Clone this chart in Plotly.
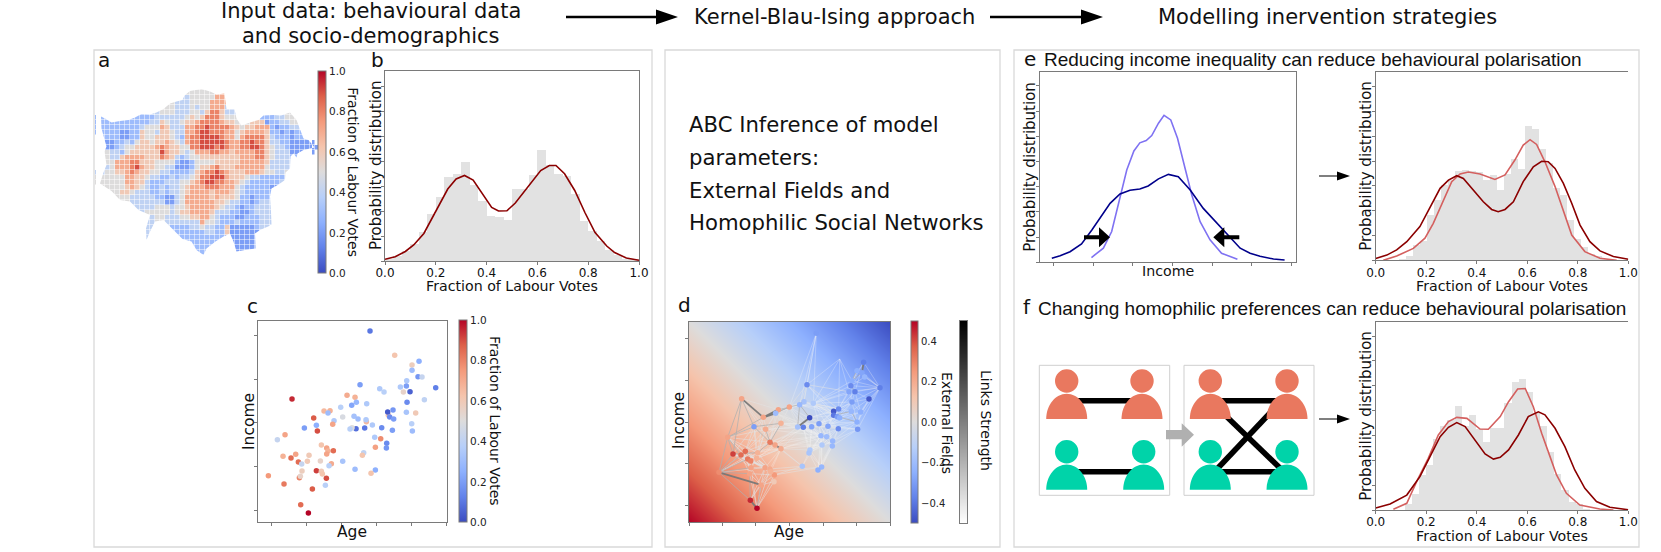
import plotly.graph_objects as go

W, H = 1661, 552
DJ = "DejaVu Sans"
LS = "Liberation Sans"
SPINE = "#7a7a7a"
GREY = "#e2e2e2"
DARKRED = "#8b0000"
LIGHTRED = "#d4605f"
NAVY = "#00008b"
PURPLE = "#7f72f2"
ORANGE = "#e9785f"
GREEN = "#00d3a9"

COOLWARM = [[0, "#3b4cc0"], [0.125, "#6282ea"], [0.25, "#8db0fe"], [0.375, "#b7cff9"], [0.5, "#dddcdc"],
            [0.625, "#f5c4ac"], [0.75, "#f49a7b"], [0.875, "#dd6049"], [1, "#b40426"]]
GREYS = [[0, "#ffffff"], [1, "#000000"]]

# ---- panel a: ward map, one digit = tenths of the Labour vote share -------
map_rows = [
    "19: 5555",
    "19: 55555 77",
    "18: 4 55555 77",
    "17: 44 5555 777",
    "14: 554 44 54 55 777 4",
    "12: 4 555 444 554 6 88 6 44",
    "1: 3 ....... 33344 4444 5 6 5 6 888 6 55 ...... 3344 55",
    "1: 33 . 33333 33 44 6 5 44 5 6 67 88887 66 5 55 666 233 445",
    "1: 333 33333 455 5 76 444 77 88988887 6 566777 32334",
    "1: 333 32233 6554 66 544 77 89988877 5 67777 6 3 32323",
    "2: 33 32233 65566 654 3 7 889999877 5 78888 6 433 3233",
    "2: 22 33 43 5 6656 6 7 6 54 78 89999987 788988 6 4433 2222",
    "2: 22 3 4 5 5 6 6 6 6 7 8 7 6 6 5 5 88 99989 87 788998 6 544 3 22222",
    "2: 5 4 4 3 5 66 6666 9 7 66 5 4 5 777 887 76 7777 88 6 5 444 222",
    "2: 5 44 6 7 777 6 6 6 8 7 6 4 3 4 5 5 6666 6 66 6777 88 6 5 444 3",
    "2: 55 777 88 6 665 555 3 22 3 55 55 66 666 7777 7 6 4 444",
    "2: 45 777 89 7 6 6 5 54 4 222 3 5 66786 66 77777 7 5 444 4",
    "1: 455 66 78 7 66 55 44 3 333 4 6 78898 7 66 6777 6 5 5 44 5",
    "1: 55555 7 7 6 6 5 44 3 3 4 3 4 4 5 6 88999 7 6 6 6 5 4 433 333 5",
    "1: 55555 7 7 6 6 4 33 3 44 4 5 5 6 7 89988 77 6 5 4 3333 33 4",
    "3: 555 6 7 6 5 4 33 43 4 4 5 6 77 78887 77 5 4 3333 32",
    "4: 56 6 5 4 4 4 33 4 3 4 4 5 67 77 7677 76 5 4 333 33",
    "5: 5 54 4444 33 22 4 5 777 77 676 66 5 332 333",
    "6: 5 44 444 44 22 4 5 7777 7766 5 4 4 332 344",
    "8: 44 445 554 5 5 67777 765 4 43233 444",
    "11: 55 5 54 5 6 6777 76 4 4 433223 444",
    "11: 455 44 4 55 66 77 5 4 3 332233 344",
    "11: 455 4 444 444 7 55 4 33 3433 3344",
    "11: 44 .. .3 33 44 5 44 33 6 22222 34",
    "10: 44 .... 333 333 443 36 22222",
    "10: 4 ....... 333 3 3 33 .. 22222",
    "19: 333 33 .... 2222",
    "20: 333 ..... 2222",
    "21: 3",
]
map_cols = 46
map_nrows = 35
# Greater London silhouette, in map cells (x, y)
outline_x = [1.2, 2, 3.3, 5, 6.7, 8, 9.3, 11, 12.3, 13.7, 15, 16.3, 17.5, 17.9, 19, 21.3, 23, 24.3, 25.9, 26.1, 26.3, 27.9, 28.3,
             29.3, 31, 32.7, 33.7, 35.7, 37.2, 39, 40.3, 40.8, 41.7, 42.7, 43.9, 41.7, 40.5, 40.3, 39.7, 39.1, 39, 38.1, 38,
             36.7, 35.3, 35, 35.2, 35.3, 33, 32, 32.1, 30, 28.3, 27.7, 27, 25.7, 24.1, 22.3, 21.7, 20.3, 19.3, 17.5, 16, 14.7,
             13.7, 12, 11, 10.3, 10.2, 10.7, 11, 8.7, 7, 5, 3.3, 1, 1.7, 2.3, 1.9, 2.3, 1.3]
outline_y = [6.3, 6.7, 7.5, 7.2, 7, 6.5, 5.8, 5.9, 5.5, 4.8, 3.7, 3.3, 3, 2.1, 1.2, 0.8, 1.3, 1.9, 1.7, 3.3, 4.8, 4.8, 6.7,
             8.1, 7.5, 7, 6.1, 6, 6.1, 5.5, 7, 8.3, 10.7, 11, 12.5, 13, 13.7, 14.5, 13.7, 14.3, 16.7, 17.5, 19, 19.9, 20.7, 22.3,
             25.3, 28, 29, 29.7, 32.7, 33, 33.3, 31.3, 29.7, 30.3, 31.3, 32.7, 34, 33, 31.3, 30.8, 29.3, 28, 27, 27.3, 29.3, 31,
             28.7, 27, 26, 25, 23.3, 23, 21.2, 19.7, 17.5, 16, 13.3, 12.3, 8.7]

# ---- panel b ---------------------------------------------------------------
frac_ticks = [0.0, 0.2, 0.4, 0.6, 0.8, 1.0]
density_ticks = [0, 1, 2, 3, 4, 5, 6, 7]
b_hist = [0.07, 0.2, 0.4, 0.67, 1.17, 1.9, 2.55, 3.38, 3.5, 3.95, 3.05, 2.4, 1.8, 1.75, 1.66,
          2.9, 2.9, 3.45, 4.44, 3.85, 3.5, 3.4, 2.7, 1.6, 1.2, 0.8, 0.45, 0.25, 0.1, 0.05]
b_x = [0, .04, .08, .113, .153, .2, .247, .28, .313, .347, .387, .42, .447, .48, .513, .547, .58, .613,
       .647, .673, .707, .747, .787, .827, .873, .904, .95, 1.0]
b_y = [.07, .17, .38, .64, 1.1, 2.01, 2.88, 3.28, 3.42, 3.24, 2.61, 2.14, 2.0, 2.01, 2.32, 2.77, 3.22, 3.62,
       3.82, 3.82, 3.49, 2.82, 1.94, 1.14, .6, .34, .12, .03]

# ---- panel c ---------------------------------------------------------------
c_age = [450, 524, 597, 576, 576, 594, 606, 560, 541, 559, 647, 570, 550, 420, 479, 492, 613, 561, 381, 405, 216,
         440, 409, 395, 362, 312, 330, 324, 505, 503, 519, 559, 587, 509, 521, 368, 402, 414, 342, 281, 338, 289,
         253, 292, 195, 172, 439, 438, 457, 434, 408, 396, 390, 485, 517, 575, 577, 464, 482, 500, 466, 499, 304,
         320, 324, 340, 320, 431, 427, 368, 334, 327, 267, 227, 189, 213, 235, 262, 301, 245, 405, 466, 453, 289,
         246, 304, 307, 145, 238, 241, 319, 192, 277, 316, 242, 265]
c_income = [138, 211, 229, 240, 256, 275, 276, 287, 306, 303, 308, 320, 321, 299, 311, 321, 344, 352, 331, 337, 342,
            356, 352, 361, 367, 378, 377, 384, 391, 381, 375, 382, 384, 396, 402, 396, 394, 402, 407, 399, 418, 421,
            429, 438, 449, 464, 410, 404, 420, 429, 431, 428, 432, 428, 436, 416, 438, 457, 461, 475, 487, 489, 480,
            489, 498, 497, 507, 503, 511, 529, 536, 542, 511, 508, 514, 519, 531, 529, 528, 537, 553, 555, 565, 557,
            558, 559, 567, 572, 578, 574, 580, 597, 612, 601, 659, 684]
c_votes = [.1, .62, .25, .58, .3, .18, .42, .35, .35, .2, .12, .05, .55, .2, .35, .38, .4, .15, .7, .68, .95,
           .35, .28, .22, .38, .66, .68, .3, .62, .03, .18, .33, .6, .15, .2, .48, .32, .3, .35, .88, .72, .25,
           .2, .9, .72, .42, .66, .35, .35, .1, .08, .5, .38, .15, .2, .38, .3, .35, .78, .15, .73, .18, .62,
           .72, .68, .85, .72, .4, .62, .33, .7, .38, .6, .72, .68, .85, .85, .6, .55, .42, .3, .25, .62, .92,
           .58, .6, .62, .75, .8, .55, .9, .82, .88, .38, .85, 1.0]
c_age_ticks = [154, 259, 364, 469, 574, 679]
c_income_ticks = [152, 283, 414, 545, 676]
cbar_ticks = [0.0, 0.2, 0.4, 0.6, 0.8, 1.0]

# ---- panel d ---------------------------------------------------------------
d_age = [559, 701, 681, 696, 704, 666, 663, 531, 750, 657, 675, 717, 666, 335, 509, 522, 550, 445, 437, 478, 626, 611,
         611, 622, 629, 664, 692, 400, 372, 407, 453, 539, 503, 520, 545, 567, 594, 625, 681, 683, 573, 590, 608, 576,
         607, 293, 420, 435, 453, 309, 333, 346, 383, 353, 362, 380, 540, 537, 517, 575, 564, 267, 363, 405, 420, 359,
         433, 422, 393, 432, 361, 381, 629]
d_income = [145, 232, 257, 263, 276, 287, 302, 299, 308, 320, 320, 342, 351, 341, 359, 350, 355, 374, 385, 366, 372, 379,
            391, 395, 398, 379, 381, 397, 425, 433, 415, 398, 426, 427, 425, 416, 424, 431, 411, 433, 452, 455, 468, 480,
            483, 457, 472, 480, 491, 507, 510, 499, 503, 522, 528, 520, 495, 504, 544, 546, 555, 562, 548, 548, 552, 566,
            570, 560, 600, 590, 646, 670, 222]
d_votes = [.2, .12, .25, .22, .28, .25, .15, .15, .12, .22, .12, .03, .2, .72, .28, .32, .35, .72, .3, .72, .15, .03,
           .1, .2, .25, .28, .25, .72, .2, .7, .68, .0, .32, .12, .22, .2, .22, .15, .25, .18, .28, .3, .28, .35,
           .28, .72, .82, .72, .7, .92, .85, .85, .68, .82, .8, .68, .35, .33, .33, .28, .25, .78, .72, .72, .7, .72,
           .75, .68, .72, .6, .95, 1.0]
links_light = ("0-7 0-14 0-19 0-16 0-15 72-7 72-9 72-16 72-5 72-20 8-1 8-2 8-3 8-4 8-5 8-6 8-9 8-10 8-11 8-12 8-26 8-38 8-39 "
               "2-9 2-6 1-6 1-5 1-10 3-6 4-6 5-10 6-12 9-12 10-12 10-26 12-26 12-38 25-39 26-39 38-39 37-39 37-38 36-38 36-39 "
               "35-39 35-38 42-39 44-39 42-38 40-37 41-37 42-37 43-37 44-37 40-36 41-36 42-36 43-36 44-36 40-35 41-35 43-35 "
               "44-35 40-34 41-34 43-34 44-34 40-33 41-33 43-33 44-33 40-32 41-32 43-32 56-40 56-41 56-42 56-43 57-40 57-41 "
               "57-42 57-43 56-34 57-34 56-33 57-33 58-40 59-40 60-40 59-43 60-43 59-44 60-44 58-56 59-56 60-57 59-57 60-42 "
               "59-42 35-16 36-16 37-16 20-16 20-35 21-35 22-35 23-35 24-35 25-35 20-36 21-36 22-36 23-36 24-36 25-36 26-36 "
               "20-12 21-12 22-12 23-12 24-12 26-24 12-16 9-16 10-16 6-16 5-16 9-20 6-20 10-20 11-38 11-26 11-12 11-10 11-25 "
               "14-20 14-21 14-22 15-21 15-22 16-23 16-24 16-25 7-21 7-22 31-20 31-21 31-22 31-37 32-35 32-36 33-35 34-36 "
               "30-32 30-35 30-36 30-40 48-40 48-41 48-43 47-40 47-43 46-40 46-35 17-14 17-15 17-16 18-14 18-15 18-33 18-34 "
               "19-33 19-34 19-35 29-32 29-34 29-40 51-30 52-30 55-30 55-32 55-33 52-48 51-48 54-48 53-48 63-48 64-48 67-48")
links_pale = ("61-46 61-63 61-47 61-52 61-51 45-52 45-53 45-46 45-29 45-28 13-17 13-29 13-46 27-46 28-49 49-53 49-54 49-62 "
              "50-62 50-65 51-63 51-46 52-64 53-65 53-67 54-66 55-66 55-48 62-68 63-68 65-68 66-68 67-68 69-68 65-71 68-71 "
              "68-70 69-71 66-71 64-71 63-70 64-70 62-71 28-27 29-30 30-33 30-34 29-33 17-33 18-32 19-32 19-7 19-15 15-7 14-7 "
              "7-20 7-9 15-20 16-21 16-22 31-36 33-36 34-37 35-37 46-33 47-32 48-33 48-56 48-58 47-58 64-58 66-58 67-59 66-59 "
              "45-54 45-55 45-62 45-63 49-55 49-63 49-64 50-54 50-55 50-63 50-64 51-62 51-64 52-62 52-65 53-62 53-63 54-65 "
              "54-64 55-64 55-67 62-65 62-63 63-64 64-67 65-66 28-51 28-52 28-55 29-51 29-52 29-55 27-51 27-52 17-30 18-30 "
              "18-29 17-29 17-46 18-46 19-30 19-46 32-33 33-34 34-35 35-36 36-37")
links_mid = ("13-28 13-45 13-49 45-61 45-49 45-50 61-49 61-50 61-53 61-65 61-62 61-70 45-27 28-45 27-19 18-19 17-19 19-14 14-32 "
             "14-31 32-31 28-30 30-46 28-46 29-46 46-52 49-52 50-51 65-70 71-68 5-2 2-4 6-10 3-5 22-25 22-38 25-38 21-20")
links_dark = "70-71 1-3 46-47 47-48 31-32 27-17 13-27 61-68 27-18 14-15"
d_age_ticks = [177, 278, 378, 479, 580, 681, 781]
d_income_ticks = [159, 285, 411, 537, 663]
field_age = [177, 479, 781]
field_income = [712, 411, 110]
field_values = [[0.5, 0.25, 0.0], [0.25, 0.0, -0.25], [0.0, -0.25, -0.5]]
field_ticks = [-0.4, -0.2, 0.0, 0.2, 0.4]
field_labels = ["−0.4", "−0.2", "0.0", "0.2", "0.4"]
strength_levels = [0.0, 1.0]

# ---- panel e ---------------------------------------------------------------
income_ticks = [0, 1, 2, 3, 4, 5, 6]
e_x_before = [-.04, .17, .42, .71, .97, 1.22, 1.43, 1.68, 1.93, 2.18, 2.39, 2.65, 2.9, 3.15, 3.45, 3.78, 4.2, 4.71, 4.96, 5.21, 5.55, 5.83]
e_y_before = [.16, .26, .42, .73, 1.28, 1.88, 2.34, 2.71, 2.86, 2.91, 3.03, 3.31, 3.49, 3.4, 2.87, 2.14, 1.42, .56, .36, .24, .13, .09]
e_x_after = [.96, 1.26, 1.47, 1.64, 1.85, 2.03, 2.18, 2.34, 2.48, 2.65, 2.79, 2.96, 3.13, 3.32, 3.49, 3.7, 3.95, 4.24, 4.64]
e_y_after = [.19, .56, 1.22, 2.28, 3.66, 4.42, 4.74, 4.83, 5.03, 5.52, 5.83, 5.65, 4.92, 3.73, 2.67, 1.61, .89, .36, .12]
e2_hist = [.08, .19, .62, .79, 1.83, 2.43, 3.03, 3.23, 3.61, 3.64, 3.61, 3.56, 3.26, 3.46, 2.86, 3.5, 4.08, 3.7, 5.41, 5.32,
           4.48, 3.93, 2.93, 2.63, 1.62, .89, .55, .26, .2, .04]
e2_x_base = [0, .044, .083, .123, .175, .215, .255, .288, .321, .347, .387, .426, .459, .485, .512, .545, .584, .624, .657, .683,
             .71, .743, .776, .809, .848, .888, .941, 1.0]
e2_y_base = [.07, .21, .42, .75, 1.36, 2.16, 2.9, 3.23, 3.41, 3.3, 2.83, 2.36, 2.05, 1.96, 2.05, 2.36, 3.17, 3.77, 3.99, 3.97,
             3.7, 3.1, 2.3, 1.42, .75, .38, .15, .04]
e2_x_new = [.03, .083, .149, .195, .228, .268, .301, .334, .367, .413, .472, .512, .551, .584, .611, .637, .67, .71, .743, .776, .828, .888, .954]
e2_y_new = [0, .17, .48, .89, 1.49, 2.43, 3.17, 3.48, 3.56, 3.48, 3.26, 3.44, 4.04, 4.64, 4.86, 4.67, 3.97, 2.97, 2.03, 1.02, .35, .08, 0]

# ---- panel f ---------------------------------------------------------------
f2_hist = [.27, .67, 1.41, 1.81, 2.89, 3.4, 3.62, 4.21, 3.41, 3.85, 3.26, 2.74, 3.32, 3.32, 4.3, 5.15, 5.28, 4.77, 3.92, 3.38,
           2.34, 1.48, .81, .34, .27, .05]
f2_x_base = [0, .057, .123, .175, .215, .255, .288, .321, .354, .393, .433, .466, .493, .526, .565, .604, .644, .67, .71, .749, .788, .828, .874, .927, 1.0]
f2_y_base = [.08, .24, .6, 1.34, 2.15, 2.95, 3.33, 3.52, 3.36, 2.83, 2.26, 2.05, 2.12, 2.42, 3.02, 3.76, 3.95, 3.83, 3.29, 2.55, 1.61, .87, .34, .11, .01]
f2_x_new = [.07, .123, .162, .208, .248, .288, .321, .361, .413, .446, .493, .526, .562, .592, .624, .657, .683, .716, .755, .808, .887, .941]
f2_y_new = [.03, .27, 1.14, 2.08, 3.02, 3.56, 3.73, 3.69, 3.26, 3.25, 3.76, 4.36, 4.87, 4.89, 4.16, 3.09, 2.35, 1.41, .67, .2, .04, 0]


def fx(x):
    return x / W


def fy(y):
    return 1 - y / H


fig = go.Figure()
layout = dict(width=W, height=H, autosize=False, margin=dict(l=0, r=0, t=0, b=0, pad=0, autoexpand=False), paper_bgcolor="white",
              plot_bgcolor="white", showlegend=False, barmode="overlay", bargap=0, font=dict(family=DJ, color="#111"))


def set_axes(n, box, xr, yr, xticks=None, yticks=None, xlabels=False, visible=True, xmirror=True, ymirror=True):
    x0, x1, y0, y1 = box
    common = dict(showgrid=False, zeroline=False, showline=visible, linecolor=SPINE, linewidth=1, visible=visible,
                  ticks="outside", ticklen=3, tickwidth=1, tickcolor=SPINE, layer="above traces")
    xa = dict(common, domain=[fx(x0), fx(x1)], range=xr, anchor=f"y{n}", mirror=xmirror, tickmode="array",
              tickvals=xticks or [], showticklabels=xlabels, tickfont=dict(family=DJ, size=12, color="#111"),
              ticklabelstandoff=-2)
    if xlabels:
        xa["ticktext"] = [f"{v:.1f}" for v in xticks]
    ya = dict(common, domain=[fy(y1), fy(y0)], range=yr, anchor=f"x{n}", mirror=ymirror, tickmode="array",
              tickvals=yticks or [], showticklabels=False)
    layout[f"xaxis{n}"] = xa
    layout[f"yaxis{n}"] = ya


def colorbar(x0, x1, y0, y1, tickvals, ticktext=None, size=10.5):
    cb = dict(x=fx(x0), xanchor="left", y=fy(y1), yanchor="bottom", len=(y1 - y0) / H, lenmode="fraction",
              thickness=x1 - x0, thicknessmode="pixels", xpad=0, ypad=0, outlinecolor=SPINE, outlinewidth=1,
              ticks="", ticklen=0, tickmode="array", tickvals=tickvals, tickfont=dict(family=DJ, size=size, color="#222"),
              ticktext=ticktext if ticktext else [f"{v:.1f}" for v in tickvals])
    return cb


# a: map ----------------------------------------------------------------------
map_z = [[None] * map_cols for _ in range(map_nrows)]
for j, row in enumerate(map_rows):
    start, digits = row.split(":")
    for k, ch in enumerate(digits.replace(" ", "")):
        if ch != ".":
            map_z[j][int(start) + k] = int(ch) / 10
# let border cells reach under the silhouette, which then trims them
grown = [r[:] for r in map_z]
for j in range(map_nrows):
    for i in range(map_cols):
        if map_z[j][i] is None:
            for dj, di in ((0, -1), (0, 1), (-1, 0), (1, 0)):
                jj, ii = j + dj, i + di
                if 0 <= jj < map_nrows and 0 <= ii < map_cols and map_z[jj][ii] is not None:
                    grown[j][i] = map_z[jj][ii]
                    break
map_box = (95, 325, 85, 260)
set_axes(1, map_box, [0, map_cols], [map_nrows, 0], visible=False)
fig.add_trace(go.Heatmap(x=[i + .5 for i in range(map_cols)], y=[j + .5 for j in range(map_nrows)], z=grown,
                         colorscale=COOLWARM, zmin=0, zmax=1, xgap=0.5, ygap=0.5, hoverongaps=False, xaxis="x1", yaxis="y1",
                         colorbar=colorbar(318, 326, 71.7, 273.3, cbar_ticks)))

# b ---------------------------------------------------------------------------
set_axes(2, (385, 639, 71, 261), [0, 1], [0, 7.6], frac_ticks, density_ticks, True)
fig.add_trace(go.Bar(x0=1 / 60, dx=1 / 30, width=1 / 30, y=b_hist, marker=dict(color=GREY, line=dict(width=0)), xaxis="x2", yaxis="y2"))
fig.add_trace(go.Scatter(x=b_x, y=b_y, mode="lines", line=dict(color=DARKRED, width=1.6), xaxis="x2", yaxis="y2"))

# c ---------------------------------------------------------------------------
set_axes(3, (257.7, 446.7, 321, 522.3), [113, 680], [712, 108], c_age_ticks, c_income_ticks)
fig.add_trace(go.Scatter(x=c_age, y=c_income, mode="markers", xaxis="x3", yaxis="y3",
                         marker=dict(size=5.5, color=c_votes, colorscale=COOLWARM, cmin=0, cmax=1, line=dict(width=0),
                                     colorbar=colorbar(459.3, 467, 320.3, 522.3, cbar_ticks))))

# d ---------------------------------------------------------------------------
set_axes(4, (689, 890.3, 321.7, 522.3), [177, 781], [712, 110], d_age_ticks, d_income_ticks)
fig.add_trace(go.Heatmap(x=field_age, y=field_income, z=field_values, colorscale=COOLWARM, zmin=-.5, zmax=.5, zsmooth="best",
                         xaxis="x4", yaxis="y4", colorbar=colorbar(911, 918, 321.7, 523.3, field_ticks, field_labels, 10)))


def link_xy(spec):
    xs, ys = [], []
    for pair in spec.split():
        a, b = pair.split("-")
        a, b = int(a), int(b)
        xs += [d_age[a], d_age[b], None]
        ys += [d_income[a], d_income[b], None]
    return xs, ys


for spec, col, wid in ((links_light, "rgba(245,245,245,0.3)", 1), (links_pale, "rgba(225,225,225,0.55)", 1),
                       (links_mid, "rgba(175,175,175,0.75)", 1), (links_dark, "rgba(120,120,120,0.95)", 1.8)):
    lx, ly = link_xy(spec)
    fig.add_trace(go.Scatter(x=lx, y=ly, mode="lines", line=dict(color=col, width=wid), xaxis="x4", yaxis="y4"))
fig.add_trace(go.Scatter(x=d_age[:len(d_votes)], y=d_income[:len(d_votes)], mode="markers", xaxis="x4", yaxis="y4",
                         marker=dict(size=5.5, color=d_votes, colorscale=COOLWARM, cmin=0, cmax=1, line=dict(width=0), showscale=False)))

# links strength bar
set_axes(5, (960, 967.3, 320.7, 522.7), [0, 1], [0, 1])
layout["xaxis5"]["ticks"] = ""
layout["yaxis5"]["ticks"] = ""
fig.add_trace(go.Heatmap(x=[0, 1], y=strength_levels, z=[[v, v] for v in strength_levels], colorscale=GREYS, zmin=0, zmax=1,
                         zsmooth="best", showscale=False, xaxis="x5", yaxis="y5"))

# e left ----------------------------------------------------------------------
set_axes(6, (1040.3, 1295.7, 72.3, 262.3), [-.33, 6.11], [0, 7.54], income_ticks, density_ticks)
fig.add_trace(go.Scatter(x=e_x_after, y=e_y_after, mode="lines", line=dict(color=PURPLE, width=1.6), xaxis="x6", yaxis="y6"))
fig.add_trace(go.Scatter(x=e_x_before, y=e_y_before, mode="lines", line=dict(color=NAVY, width=1.6), xaxis="x6", yaxis="y6"))

# e right ---------------------------------------------------------------------
set_axes(7, (1375.7, 1628.3, 71.7, 260.3), [0, 1], [0, 7.6], frac_ticks, density_ticks, True, ymirror=False)
fig.add_trace(go.Bar(x0=.1036, dx=.0277, width=.0277, y=e2_hist, marker=dict(color=GREY, line=dict(width=0)), xaxis="x7", yaxis="y7"))
fig.add_trace(go.Scatter(x=e2_x_new, y=e2_y_new, mode="lines", line=dict(color=LIGHTRED, width=1.6), xaxis="x7", yaxis="y7"))
fig.add_trace(go.Scatter(x=e2_x_base, y=e2_y_base, mode="lines", line=dict(color=DARKRED, width=1.6), xaxis="x7", yaxis="y7"))

# f right ---------------------------------------------------------------------
set_axes(8, (1375.7, 1628.3, 321.7, 510), [0, 1], [0, 7.58], frac_ticks, density_ticks, True, ymirror=False)
fig.add_trace(go.Bar(x0=.1276, dx=.0282, width=.0282, y=f2_hist, marker=dict(color=GREY, line=dict(width=0)), xaxis="x8", yaxis="y8"))
fig.add_trace(go.Scatter(x=f2_x_new, y=f2_y_new, mode="lines", line=dict(color=LIGHTRED, width=1.6), xaxis="x8", yaxis="y8"))
fig.add_trace(go.Scatter(x=f2_x_base, y=f2_y_base, mode="lines", line=dict(color=DARKRED, width=1.6), xaxis="x8", yaxis="y8"))

# shapes ----------------------------------------------------------------------
shapes = []


def rect(x0, y0, x1, y1, color="#d9d9d9", lw=1.3):
    shapes.append(dict(type="rect", xref="paper", yref="paper", x0=fx(x0), x1=fx(x1), y0=fy(y0), y1=fy(y1),
                       line=dict(color=color, width=lw), fillcolor="rgba(0,0,0,0)", layer="below"))


def path(points, color):
    d = "M" + " L".join(f"{fx(a):.5f},{fy(b):.5f}" for a, b in points) + " Z"
    shapes.append(dict(type="path", xref="paper", yref="paper", path=d, fillcolor=color, line=dict(width=0)))


def arrow(x0, x1, y, lw, hl, hh, color="black"):
    s = 1 if x1 > x0 else -1
    neck = x1 - s * hl
    path([(x0, y - lw / 2), (neck, y - lw / 2), (neck, y - hh / 2), (x1, y), (neck, y + hh / 2), (neck, y + lw / 2), (x0, y + lw / 2)], color)


def seg(x0, y0, x1, y1, lw=5.5):
    shapes.append(dict(type="line", xref="paper", yref="paper", x0=fx(x0), x1=fx(x1), y0=fy(y0), y1=fy(y1),
                       line=dict(color="black", width=lw)))


def person(cx, head_y, color):
    base = head_y + 38
    top = head_y + 12.7
    w = 20.5
    k = 0.55
    shapes.append(dict(type="circle", xref="paper", yref="paper", x0=fx(cx - 11.7), x1=fx(cx + 11.7),
                       y0=fy(head_y - 11.7), y1=fy(head_y + 11.7), fillcolor=color, line=dict(width=0)))
    h = base - top
    d = (f"M{fx(cx - w):.5f},{fy(base):.5f} C{fx(cx - w):.5f},{fy(base - k * h):.5f} {fx(cx - k * w):.5f},{fy(top):.5f} {fx(cx):.5f},{fy(top):.5f} "
         f"C{fx(cx + k * w):.5f},{fy(top):.5f} {fx(cx + w):.5f},{fy(base - k * h):.5f} {fx(cx + w):.5f},{fy(base):.5f} Z")
    shapes.append(dict(type="path", xref="paper", yref="paper", path=d, fillcolor=color, line=dict(width=0)))


# silhouette trim over the map: a white sheet with a London-shaped hole
sx = (map_box[1] - map_box[0]) / map_cols
sy = (map_box[3] - map_box[2]) / map_nrows
hole = [(map_box[0] + a * sx, map_box[2] + b * sy) for a, b in zip(outline_x, outline_y)]
sheet = [(96, 80), (312, 80), (312, 262), (96, 262)]
d_sheet = "M" + " L".join(f"{fx(a):.5f},{fy(b):.5f}" for a, b in sheet) + " Z M" + " L".join(f"{fx(a):.5f},{fy(b):.5f}" for a, b in hole) + " Z"
shapes.append(dict(type="path", xref="paper", yref="paper", path=d_sheet, fillcolor="white", fillrule="evenodd", line=dict(width=0)))

rect(94, 50, 652, 547)
rect(665, 50, 1000, 547)
rect(1014, 50, 1639, 547)
rect(1039.3, 365.3, 1169.7, 495.3, "#cfcfcf", 1)
rect(1184, 365.3, 1314, 495.3, "#cfcfcf", 1)
seg(1075, 400.7, 1135, 400.7)
seg(1075, 471.7, 1135, 471.7)
seg(1220, 400.7, 1280, 400.7)
seg(1220, 471.7, 1280, 471.7)
seg(1226, 416, 1282, 470)
seg(1218, 468, 1270, 413)
for cx, hy, col in ((1066.7, 381, ORANGE), (1142, 381, ORANGE), (1066.7, 451.7, GREEN), (1143.7, 451.7, GREEN),
                    (1210.3, 381, ORANGE), (1287, 381, ORANGE), (1210.3, 451.7, GREEN), (1287, 451.7, GREEN)):
    person(cx, hy, col)
path([(1166, 430), (1181.7, 430), (1181.7, 423.3), (1194, 434.7), (1181.7, 446.7), (1181.7, 439.3), (1166, 439.3)], "#b0b0b0")
arrow(566, 678, 17, 2.5, 22, 15)
arrow(990, 1103, 17, 2.5, 22, 15)
arrow(1084, 1110, 237.3, 4, 11, 20)
arrow(1239.3, 1213.3, 237.3, 4, 11, 20)
arrow(1319, 1350, 176, 1.2, 13, 9)
arrow(1319, 1350, 419, 1.2, 13, 9)
layout["shapes"] = shapes

# text ------------------------------------------------------------------------
ann = []


def text(x, y, s, size, family=DJ, angle=0, anchor="center"):
    ann.append(dict(xref="paper", yref="paper", x=fx(x), y=fy(y), text=s, showarrow=False, textangle=angle, xanchor=anchor,
                    yanchor="middle", font=dict(family=family, size=size, color="#111"), borderpad=0, borderwidth=0))


text(371, 11, "Input data: behavioural data", 21)
text(371, 36, "and socio-demographics", 21)
text(834, 17, "Kernel-Blau-Ising approach", 21)
text(1327, 17, "Modelling inervention strategies", 21)
for y, s in ((124, "ABC Inference of model"), (157, "parameters:"), (190, "External Fields and"), (222, "Homophilic Social Networks")):
    text(689, y, s, 21.2, anchor="left")
text(103.6, 60, "a", 20)
text(377, 60, "b", 20)
text(252, 306, "c", 20)
text(684, 305, "d", 20)
text(1030, 59, "e", 20)
text(1027, 307, "f", 20)
text(1044, 59, "Reducing income inequality can reduce behavioural polarisation", 19, LS, anchor="left")
text(1038, 308.5, "Changing homophilic preferences can reduce behavioural polarisation", 19, LS, anchor="left")
text(352.7, 172, "Fraction of Labour Votes", 14, angle=90)
text(495, 421, "Fraction of Labour Votes", 14, angle=90)
text(947, 423, "External Fields", 14, angle=90)
text(986, 420, "Links Strength", 14, angle=90)
text(512, 286, "Fraction of Labour Votes", 14.2)
text(1501.7, 285.5, "Fraction of Labour Votes", 14.2)
text(1501.7, 535.5, "Fraction of Labour Votes", 14.2)
text(375.5, 165.5, "Probability distribution", 15, angle=-90)
text(1030, 166.7, "Probability distribution", 15, angle=-90)
text(1365.7, 166, "Probability distribution", 15, angle=-90)
text(1365.7, 416, "Probability distribution", 15, angle=-90)
text(248.3, 421.7, "Income", 15.5, angle=-90)
text(352, 531.7, "Age", 15.5)
text(679, 421, "Income", 15.5, angle=-90)
text(789, 531.7, "Age", 15.5)
text(1167.7, 271, "Income", 14.2)
layout["annotations"] = ann

fig.update_layout(**layout)
fig.write_html("out.html", config=dict(displayModeBar=False),
               post_script="document.body.style.margin='0';document.body.style.overflow='hidden';")
